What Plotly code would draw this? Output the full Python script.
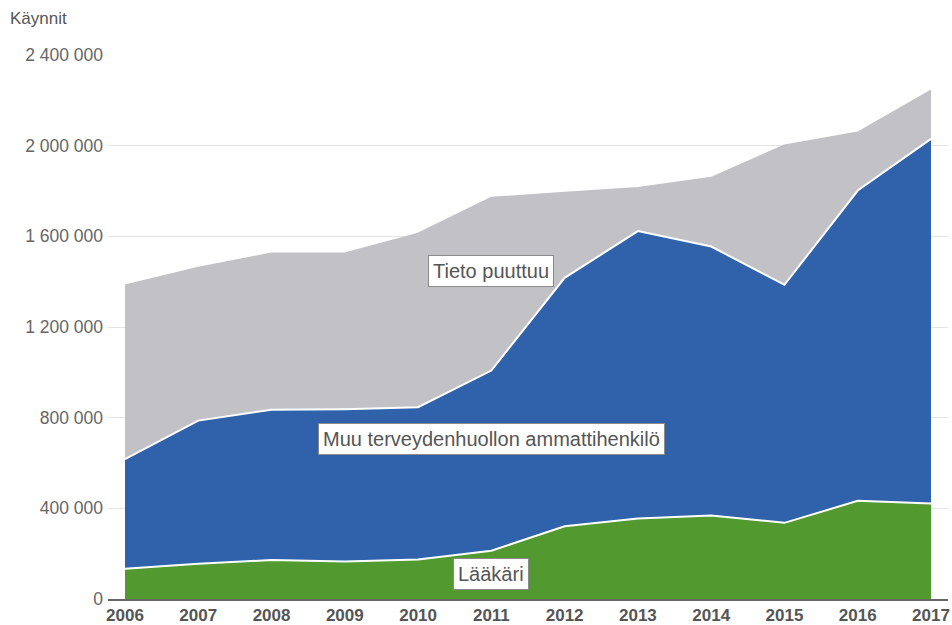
import plotly.graph_objects as go

# Visits per year by professional group (stacked)
years = [2006, 2007, 2008, 2009, 2010, 2011, 2012, 2013, 2014, 2015, 2016, 2017]
laakari = [133000, 156000, 172000, 165000, 174000, 213000, 321000, 355000, 368000, 336000, 433000, 421000]
muu_ammattihenkilo = [484000, 631000, 663000, 672000, 672000, 795000, 1096000, 1268000, 1187000, 1050000, 1369000, 1609000]
tieto_puuttuu = [766000, 675000, 689000, 687000, 766000, 762000, 375000, 190000, 303000, 615000, 256000, 213000]

series_names = ["Lääkäri", "Muu terveydenhuollon ammattihenkilö", "Tieto puuttuu"]
y_tick_values = [0, 400000, 800000, 1200000, 1600000, 2000000, 2400000]
y_tick_labels = ["0", "400 000", "800 000", "1 200 000", "1 600 000", "2 000 000", "2 400 000"]

GREEN = "#529a30"
BLUE = "#2f62ab"
GREY = "#c2c1c6"
FONT = "Liberation Sans, Arial, sans-serif"

fig = go.Figure()
for name, values, color, edge in [
    (series_names[0], laakari, GREEN, "white"),
    (series_names[1], muu_ammattihenkilo, BLUE, "white"),
    (series_names[2], tieto_puuttuu, GREY, GREY),
]:
    fig.add_trace(go.Scatter(
        x=years, y=values, name=name, mode="lines",
        stackgroup="visits", fillcolor=color,
        line=dict(color=edge, width=2),
        hoverinfo="x+y+name",
    ))

# In-chart series labels
label_positions = [(2011, 109000), (2011, 704000), (2011, 1445000)]
for name, (lx, ly) in zip(series_names, label_positions):
    fig.add_annotation(
        x=lx, y=ly, text=name, showarrow=False,
        font=dict(family=FONT, size=20, color="#555555"),
        bgcolor="white", bordercolor="#8a8a8a", borderwidth=1, borderpad=4,
    )

fig.add_annotation(
    x=0, y=1, xref="paper", yref="paper", xanchor="left", yanchor="top",
    xshift=-100, yshift=48,
    text="Käynnit", showarrow=False,
    font=dict(family=FONT, size=17, color="#555555"),
)

fig.update_layout(
    width=952, height=625,
    margin=dict(l=108, r=4, t=55, b=26, autoexpand=False),
    plot_bgcolor="white", paper_bgcolor="white",
    showlegend=False,
    font=dict(family=FONT),
    xaxis=dict(
        range=[2005.768, 2017.232],
        tickvals=years, ticktext=[str(y) for y in years],
        tickfont=dict(family=FONT, size=17, color="#555555", weight="bold"),
        showgrid=False, zeroline=False,
        showline=True, linecolor="#666666", linewidth=1.5,
        ticks="", ticklabelstandoff=0, automargin=False,
    ),
    yaxis=dict(
        range=[0, 2400000],
        tickvals=y_tick_values, ticktext=y_tick_labels,
        tickfont=dict(family=FONT, size=17.5, color="#666666"),
        showgrid=True, gridcolor="#e3e3e3", gridwidth=1,
        zeroline=False, ticks="", ticklabelstandoff=4, automargin=False,
    ),
)

fig.write_html("out.html")
